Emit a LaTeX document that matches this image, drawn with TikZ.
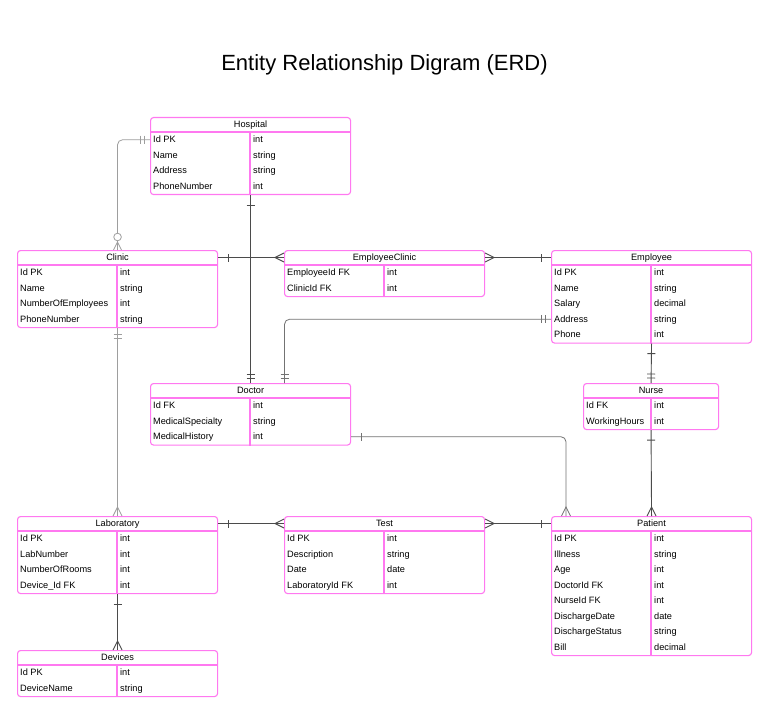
\documentclass[tikz,border=0pt]{standalone}
\usepackage{fontspec}
\setmainfont{Liberation Sans}
\usetikzlibrary{calc,decorations.markings}
\definecolor{erdpink}{RGB}{255,120,240}
\definecolor{erdgray}{RGB}{75,75,75}

% one table: name, top left, width, column, rows, title, fields
\newcommand{\entity}[7]{%
  \node[entbox, minimum width=#3pt, minimum height={15pt+#5*15.5pt}, anchor=north west] (#1) at (#2) {};
  \node[enttitle] (#1-h) at ([yshift=-7.5pt]#1.north) {#6};
  \draw[entline] ([yshift=-15pt]#1.north west) -- ([yshift=-15pt]#1.north east);
  \draw[entline] ([xshift=#4pt,yshift=-15pt]#1.north west) -- ([xshift=#4pt]#1.south west);
  \foreach \fld/\typ [count=\i] in {#7} {
    \node[entfield] (#1-\i) at ([xshift=1pt,yshift={-15pt-(\i-0.5)*15.5pt}]#1.north west) {\fld};
    \node[entfield] at ([xshift={#4pt+1pt},yshift={-15pt-(\i-0.5)*15.5pt}]#1.north west) {\typ};
  }
}

\tikzset{
  entbox/.style={draw=erdpink, line width=1.1pt, rounded corners=3pt, fill=white, inner sep=0pt},
  entline/.style={draw=erdpink, line width=1.1pt},
  enttitle/.style={font=\fontsize{9.2}{11}\selectfont, inner sep=0pt, text height=8pt, text depth=1.6pt},
  entfield/.style={font=\fontsize{9.2}{11}\selectfont, anchor=west, inner sep=2pt, text height=8pt, text depth=1.6pt},
  rel/.style={draw=erdgray, line width=0.9pt, rounded corners=5pt},
  relmid/.style={draw=black!55, line width=0.8pt, rounded corners=5pt},
  relpale/.style={draw=black!38, line width=0.8pt, rounded corners=5pt},
  tick/.style={sharp corners},
  barA/.style={postaction={decorate,decoration={markings,
    mark=at position 10pt with {\draw[tick] (0,-4pt) -- (0,4pt);}}}},
  barB/.style={postaction={decorate,decoration={markings,
    mark=at position -10pt with {\draw[tick] (0,-4pt) -- (0,4pt);}}}},
  bbarA/.style={postaction={decorate,decoration={markings,
    mark=at position 6pt with {\draw[tick] (0,-4pt) -- (0,4pt);},
    mark=at position 10pt with {\draw[tick] (0,-4pt) -- (0,4pt);}}}},
  bbarB/.style={postaction={decorate,decoration={markings,
    mark=at position -5pt with {\draw[tick] (0,-4pt) -- (0,4pt);},
    mark=at position -9pt with {\draw[tick] (0,-4pt) -- (0,4pt);}}}},
  crowA/.style={postaction={decorate,decoration={markings,
    mark=at position 9pt with {\draw[tick] (-9pt,4.5pt) -- (0,0) -- (-9pt,-4.5pt);}}}},
  crowB/.style={postaction={decorate,decoration={markings,
    mark=at position -9pt with {\draw[tick] (9pt,4.5pt) -- (0,0) -- (9pt,-4.5pt);}}}},
  ocrowB/.style={postaction={decorate,decoration={markings,
    mark=at position -13pt with {\draw[tick, fill=white] (0,0) circle (3.8pt);},
    mark=at position -8pt with {\draw[tick] (8pt,4pt) -- (0,0) -- (8pt,-4pt);}}}}
}

\begin{document}
\begin{tikzpicture}[x=1pt, y=-1pt]
  \fill[white] (0,0) rectangle (768,714);
  \useasboundingbox (0,0) rectangle (768,714);

  \node[font=\fontsize{22}{26}\selectfont] (title) at (384.5,65) {Entity Relationship Digram (ERD)};

  %%%%% tables %%%%%
  \entity{hosp}{150,117}{200}{100}{4}{Hospital}{Id PK/int, Name/string, Address/string, PhoneNumber/int}
  \entity{clin}{17,250}{200}{100}{4}{Clinic}{Id PK/int, Name/string, NumberOfEmployees/int, PhoneNumber/string}
  \entity{empcl}{284,250}{200}{100}{2}{EmployeeClinic}{EmployeeId FK/int, ClinicId FK/int}
  \entity{emp}{551,250}{200}{100}{5}{Employee}{Id PK/int, Name/string, Salary/decimal, Address/string, Phone/int}
  \entity{doc}{150,383}{200}{100}{3}{Doctor}{Id FK/int, MedicalSpecialty/string, MedicalHistory/int}
  \entity{nurse}{583,383}{135}{68}{2}{Nurse}{Id FK/int, WorkingHours/int}
  \entity{lab}{17,516}{200}{100}{4}{Laboratory}{Id PK/int, LabNumber/int, NumberOfRooms/int, Device\_Id FK/int}
  \entity{test}{284,516}{200}{100}{4}{Test}{Id PK/int, Description/string, Date/date, LaboratoryId FK/int}
  \entity{pat}{551,516}{200}{100}{8}{Patient}{Id PK/int, Illness/string, Age/int, DoctorId FK/int, NurseId FK/int, DischargeDate/date, DischargeStatus/string, Bill/decimal}
  \entity{dev}{17,650}{200}{100}{2}{Devices}{Id PK/int, DeviceName/string}

  %%%%% relations %%%%%
  \coordinate (docjoin) at ([xshift=34pt]doc.north);
  \coordinate (patjoin) at ([xshift=15pt]pat.north west);

  \draw[relpale, bbarA, ocrowB] (hosp.west |- hosp-1) -| (clin.north);
  \draw[rel, barA, bbarB] (hosp.south) -- (doc.north);
  \draw[rel, barA, crowB] (clin.east |- clin-h) -- (empcl.west |- empcl-h);
  \draw[rel, crowA, barB] (empcl.east |- empcl-h) -- (emp.west |- emp-h);
  \draw[relmid, bbarA, bbarB] (emp.west |- emp-4) -| (docjoin);
  \draw[rel, barA, bbarB] (emp.south) -- (nurse.north);
  \draw[rel, barA, crowB] (nurse.south) -- (pat.north);
  \draw[relmid, barA, crowB] (doc.east |- doc-3) -| (patjoin);
  \draw[relpale, bbarA, crowB] (clin.south) -- (lab.north);
  \draw[rel, barA, crowB] (lab.east |- lab-h) -- (test.west |- test-h);
  \draw[rel, crowA, barB] (test.east |- test-h) -- (pat.west |- pat-h);
  \draw[rel, barA, crowB] (lab.south) -- (dev.north);
\end{tikzpicture}
\end{document}
